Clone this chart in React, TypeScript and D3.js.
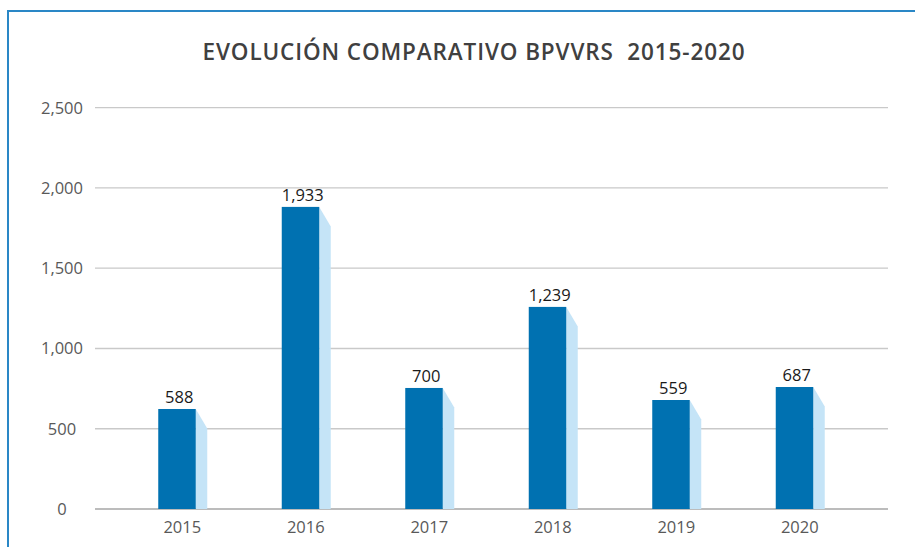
import React from "react";
import * as d3 from "d3";

const title = "EVOLUCIÓN COMPARATIVO BPVVRS  2015-2020";
const categories = ["2015", "2016", "2017", "2018", "2019", "2020"];
// values printed above the bars
const labelValues = [588, 1933, 700, 1239, 559, 687];
// heights of the bars' front faces as read against the axis
const barValues = [623, 1882, 754, 1259, 679, 760];
const yTicks = [0, 500, 1000, 1500, 2000, 2500];

const W = 915;
const H = 547;

export default function App() {
  const y = d3.scaleLinear().domain([0, 2500]).range([509, 107.7]);
  const x = d3.scaleBand<string>().domain(categories).range([120.5, 861.5]).padding(0);
  const fmt = d3.format(",");
  const gridX0 = 95;
  const gridX1 = 888;
  const frontW = 37.5;
  const sideW = 11.5;
  const sideDrop = 19.5;
  const font = "'Open Sans', 'Noto Sans', sans-serif";

  return (
    <svg
      width={W}
      height={H}
      style={{ position: "fixed", left: 0, top: 0, background: "#fff" }}
      fontFamily={font}
    >
      <rect x={0} y={0} width={W} height={H} fill="#ffffff" />
      {/* frame */}
      <line x1={7} x2={W} y1={11} y2={11} stroke="#2a87c6" strokeWidth={2} />
      <line x1={8} x2={8} y1={10} y2={H} stroke="#2a87c6" strokeWidth={2} />

      <text
        x={202.5}
        y={60}
        textAnchor="start"
        fontSize={22.5}
        fontWeight={600}
        fill="#404040"
        textLength={542}
        lengthAdjust="spacing"
        style={{ whiteSpace: "pre" }}
      >
        {title}
      </text>

      {yTicks.map((t) => (
        <g key={t}>
          <line
            x1={gridX0}
            x2={gridX1}
            y1={y(t)}
            y2={y(t)}
            stroke={t === 0 ? "#a6a6a6" : "#c9c9c9"}
            strokeWidth={t === 0 ? 1.5 : 1.3}
          />
          <text x={62} y={y(t) + 6} textAnchor="middle" fontSize={16.5} fill="#595959">
            {fmt(t)}
          </text>
        </g>
      ))}

      {categories.map((c, i) => {
        const cx = (x(c) as number) + x.bandwidth() / 2;
        const fx = cx - 24;
        const top = y(barValues[i]);
        const base = y(0);
        const sx = fx + frontW;
        const side = `M${sx},${top} L${sx + sideW},${top + sideDrop} L${sx + sideW},${base} L${sx},${base} Z`;
        return (
          <g key={c}>
            <path d={side} fill="#c5e4f7" />
            <rect x={fx} y={top} width={frontW} height={base - top} fill="#0071b1" />
            <text x={cx - 3} y={top - 6} textAnchor="middle" fontSize={16.5} fill="#1a1a1a">
              {fmt(labelValues[i])}
            </text>
            <text x={cx} y={532.7} textAnchor="middle" fontSize={16.5} fill="#595959">
              {c}
            </text>
          </g>
        );
      })}
    </svg>
  );
}
